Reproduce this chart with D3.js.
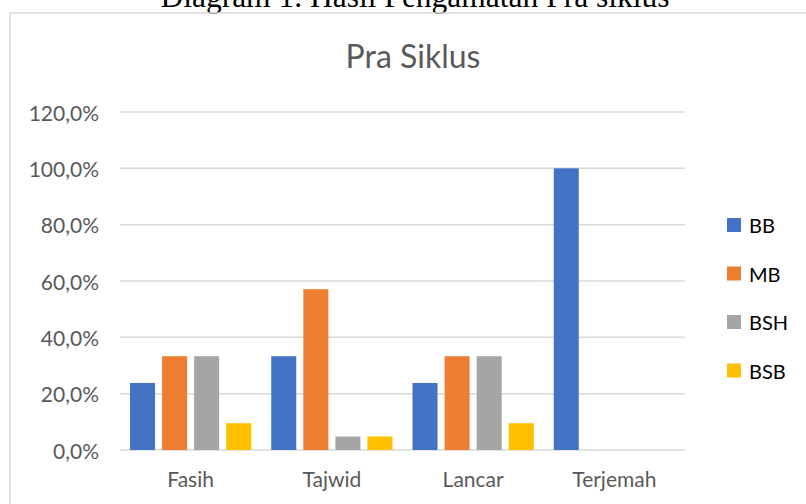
<!DOCTYPE html>
<html>
<head>
<meta charset="utf-8">
<script src="https://cdn.jsdelivr.net/npm/d3@7"></script>
<style>
  body { margin: 0; background: #fff; }
  svg { display: block; }
</style>
</head>
<body>
<svg id="chart" width="806" height="504"></svg>
<script>
let categories = ["Fasih", "Tajwid", "Lancar", "Terjemah"]
let seriesNames = ["BB", "MB", "BSH", "BSB"]
let BB = [0.238, 0.333, 0.238, 1.0]
let MB = [0.333, 0.571, 0.333, 0]
let BSH = [0.333, 0.048, 0.333, 0]
let BSB = [0.095, 0.048, 0.095, 0]
let yTicks = [0, 0.2, 0.4, 0.6, 0.8, 1.0, 1.2]
let colors = ["#4472C4", "#ED7D31", "#A5A5A5", "#FFC000"]

let values = [BB, MB, BSH, BSB]

let svg = d3.select("#chart")
let font = "Lato, 'Open Sans', sans-serif"

// caption above the chart box (cut off at the top)
svg.append("text")
  .attr("x", 415)
  .attr("y", 7)
  .attr("text-anchor", "middle")
  .style("font-family", "'Liberation Serif', 'Times New Roman', serif")
  .style("font-size", "31.5px")
  .style("fill", "#000")
  .text("Diagram 1. Hasil Pengamatan Pra siklus")

// chart box
svg.append("rect")
  .attr("x", 10)
  .attr("y", 13)
  .attr("width", 820)
  .attr("height", 520)
  .style("fill", "none")
  .style("stroke", "#d9d9d9")
  .style("stroke-width", 1.5)

svg.append("text")
  .attr("x", 413)
  .attr("y", 68)
  .attr("text-anchor", "middle")
  .style("font-family", font)
  .style("font-size", "32px")
  .style("fill", "#595959")
  .text("Pra Siklus")

let y = d3.scaleLinear().domain([0, 1.2]).range([450, 112])
let x0 = d3.scaleBand().domain(categories).range([120, 685]).padding(0)
let x1 = d3.scaleBand().domain(seriesNames).range([10, x0.bandwidth() - 10]).paddingInner(0.22)

// gridlines
svg.append("g")
  .selectAll("line")
  .data(yTicks)
  .join("line")
  .attr("x1", 120)
  .attr("x2", 685)
  .attr("y1", d => y(d))
  .attr("y2", d => y(d))
  .style("stroke", "#d9d9d9")
  .style("stroke-width", 1.5)

// y labels
svg.append("g")
  .selectAll("text")
  .data(yTicks)
  .join("text")
  .attr("x", 99)
  .attr("y", d => y(d))
  .attr("text-anchor", "end")
  .attr("dominant-baseline", "central")
  .style("font-family", font)
  .style("font-size", "21px")
  .style("fill", "#595959")
  .text(d => (d * 100).toFixed(1).replace(".", ",") + "%")

// bars
let groups = svg.append("g")
  .selectAll("g")
  .data(categories)
  .join("g")
  .attr("transform", d => "translate(" + x0(d) + ",0)")

groups.selectAll("rect")
  .data((c, i) => seriesNames.map((s, j) => ({ s: s, v: values[j][i], color: colors[j] })))
  .join("rect")
  .attr("x", d => x1(d.s))
  .attr("width", x1.bandwidth())
  .attr("y", d => y(d.v))
  .attr("height", d => y(0) - y(d.v))
  .style("fill", d => d.color)

// x labels
svg.append("g")
  .selectAll("text")
  .data(categories)
  .join("text")
  .attr("x", d => x0(d) + x0.bandwidth() / 2)
  .attr("y", 487)
  .attr("text-anchor", "middle")
  .style("font-family", font)
  .style("font-size", "21px")
  .style("fill", "#595959")
  .text(d => d)

// legend
let legend = svg.append("g")
  .selectAll("g")
  .data(seriesNames)
  .join("g")
  .attr("transform", (d, i) => "translate(727," + (225 + i * 48.5) + ")")

legend.append("rect")
  .attr("x", 0)
  .attr("y", -7)
  .attr("width", 14)
  .attr("height", 14)
  .style("fill", (d, i) => colors[i])

legend.append("text")
  .attr("x", 22)
  .attr("y", 0)
  .attr("dominant-baseline", "central")
  .style("font-family", font)
  .style("font-size", "20px")
  .style("fill", "#000")
  .text(d => d)
</script>
</body>
</html>
